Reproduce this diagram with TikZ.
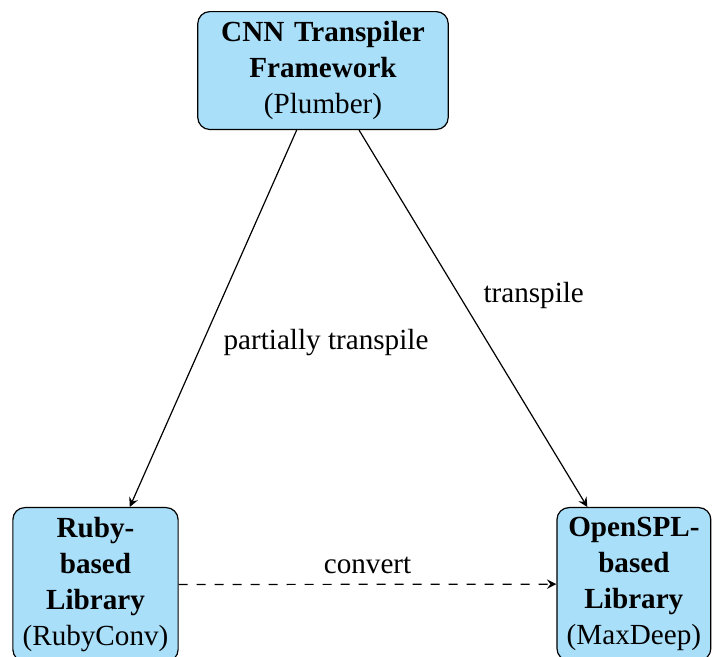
\documentclass[tikz,border=0pt]{standalone}
\usepackage{fontspec}
\setmainfont{Liberation Serif}[Scale=0.972]
\definecolor{boxfill}{RGB}{170,223,249}
\begin{document}
\begin{tikzpicture}[x=1pt,y=1pt,
  box/.style={draw, fill=boxfill, rounded corners=4pt, align=center},
  conn/.style={-stealth},
  auto]
\useasboundingbox (0,0) rectangle (237.67,-219);
% framework on top, the two libraries below
\node[box, anchor=north, text width=77pt] (cnn) at (107.67,-3.67)
  {\textbf{CNN Transpiler}\\\textbf{Framework}\\(Plumber)};
\node[box, anchor=north] (ruby) at (31.83,-169)
  {\textbf{Ruby-}\\\textbf{based}\\\textbf{Library}\\(RubyConv)};
\node[box, anchor=north] (spl) at (211.3,-169)
  {\textbf{OpenSPL-}\\\textbf{based}\\\textbf{Library}\\(MaxDeep)};
% relations
\draw[conn] (cnn) -- node {partially transpile} (ruby);
\draw[conn] (cnn) -- node {transpile} (spl);
\draw[conn, dashed] (ruby) -- node {convert} (spl);
\end{tikzpicture}
\end{document}
